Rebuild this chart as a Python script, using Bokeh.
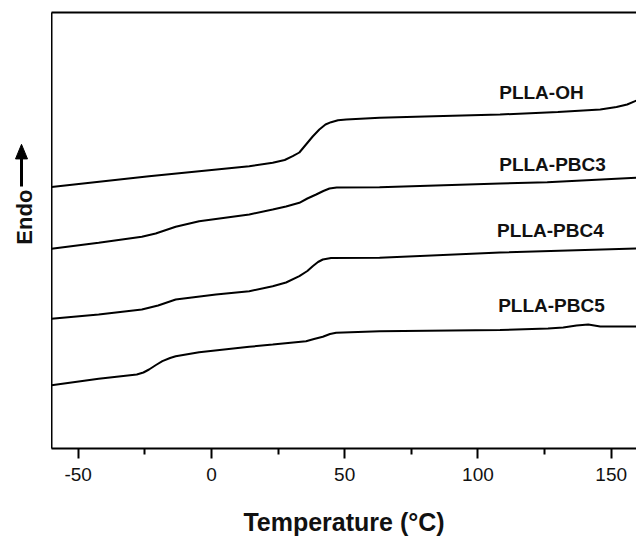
import math
from bokeh.plotting import figure
from bokeh.models import (Range1d, FixedTicker, LinearAxis, LabelSet,
                          ColumnDataSource, NumeralTickFormatter)
from bokeh.layouts import row
from bokeh.core.properties import value
from bokeh.embed import file_html
from bokeh.resources import INLINE

# ---- data (temperature in degC, heat flow in arbitrary units, curves offset) ----
temp_oh = [-60, -23.4, 14.2, 23.0, 27.5, 30.5, 33.0, 35.5, 38.0, 40.5, 42.8, 44.9, 47.5,
           50.6, 63.1, 80, 108.3, 130, 145.9, 152, 156, 159.5]
hf_oh = [261.5, 272.3, 282.3, 285.7, 288.5, 292.3, 296, 304, 312, 319, 324, 326.3, 328.3,
         329, 330.7, 332, 334, 336.5, 339, 341.5, 344, 348]

temp_pbc3 = [-60, -42.3, -26.1, -20.9, -13.4, -4.6, 14.2, 23.0, 28, 33.0, 36, 39.3, 42,
             44.3, 47, 63.1, 108.3, 126, 159.5]
hf_pbc3 = [199.7, 205.7, 211.7, 215, 221.7, 227.3, 234, 239, 242, 245.7, 250, 254, 257.5,
           260, 261, 261.3, 265, 266.3, 270.7]

temp_pbc4 = [-60, -42.3, -26.1, -20, -13.4, 1.7, 14.2, 23.0, 28, 33.0, 36, 38.0, 40, 41.8,
             44.9, 63.1, 108.3, 159.5]
hf_pbc4 = [129.7, 134, 139, 143, 149, 154, 157.3, 162.3, 166, 172.3, 177.5, 182.3, 186.5,
           189, 190.5, 190.7, 196, 200]

temp_pbc5 = [-60, -42.3, -28, -25.5, -23.4, -20.8, -18.4, -15.5, -13.4, -4.6, 14.2, 23.0,
             35.5, 38.5, 41.8, 44.5, 46.8, 63.1, 90, 108.3, 126.3, 132, 137, 141.4, 145.9, 159.5]
hf_pbc5 = [63.3, 69.7, 74, 76, 79, 83.5, 87.3, 90.5, 92.3, 96.3, 101.7, 104,
           107.3, 109.5, 111.7, 114.5, 115.7, 117.3, 118, 118.5, 120, 121, 123, 124, 122, 122]

series_names = ["PLLA-OH", "PLLA-PBC3", "PLLA-PBC4", "PLLA-PBC5"]
x_ticks = [-50, 0, 50, 100, 150]
x_minor_ticks = [-25, 25, 75, 125]

# label anchor positions (data coords)
name_x = [108, 108, 107.2, 107.6]
name_y = [350, 278, 212, 137]

H = 539
SIDE_W = 51


def hide_ticks_and_labels(ax):
    ax.major_tick_out = 0
    ax.major_tick_in = 0
    ax.minor_tick_out = 0
    ax.minor_tick_in = 0
    ax.major_tick_line_color = None
    ax.minor_tick_line_color = None
    ax.major_label_text_font_size = "1px"
    ax.major_label_text_color = None
    ax.major_label_standoff = 0
    ax.axis_line_width = 2
    ax.axis_line_color = "black"


# ---- main plot ----
p = figure(width=636 - SIDE_W, height=H, x_range=Range1d(-60, 159.5), y_range=Range1d(0, 436),
           output_backend="svg", toolbar_location=None,
           min_border_left=0, min_border_right=0, min_border_top=12, min_border_bottom=91)
p.outline_line_color = None
p.xgrid.visible = False
p.ygrid.visible = False

xa = p.below[0]
xa.ticker = FixedTicker(ticks=x_ticks, minor_ticks=x_minor_ticks)
xa.formatter = NumeralTickFormatter(format="0")
xa.major_tick_out = 10
xa.major_tick_in = 0
xa.minor_tick_out = 6
xa.minor_tick_in = 0
xa.axis_line_width = 2
xa.major_tick_line_width = 2
xa.minor_tick_line_width = 2
xa.axis_line_color = "black"
xa.major_tick_line_color = "black"
xa.minor_tick_line_color = "black"
xa.major_label_text_font_size = "19px"
xa.major_label_text_color = "#111111"
xa.major_label_standoff = 9
xa.axis_label = "Temperature (°C)"
xa.axis_label_text_font_size = "25px"
xa.axis_label_text_font_style = "bold"
xa.axis_label_text_color = "#111111"
xa.axis_label_standoff = 24

hide_ticks_and_labels(p.left[0])
top = LinearAxis()
hide_ticks_and_labels(top)
p.add_layout(top, "above")

for tx, hy in [(temp_oh, hf_oh), (temp_pbc3, hf_pbc3), (temp_pbc4, hf_pbc4), (temp_pbc5, hf_pbc5)]:
    p.line(tx, hy, line_width=2, line_color="black")

names_src = ColumnDataSource(dict(x=name_x, y=name_y, text=series_names))
p.add_layout(LabelSet(x="x", y="y", text="text", source=names_src,
                      text_font_size="19px", text_font_style="bold", text_color="#111111",
                      text_align="left", text_baseline="alphabetic"))

# ---- side panel with "Endo" + arrow ----
s = figure(width=SIDE_W, height=H, x_range=Range1d(0, SIDE_W), y_range=Range1d(0, H),
           output_backend="svg", toolbar_location=None, x_axis_type=None, y_axis_type=None,
           min_border_left=0, min_border_right=0, min_border_top=0, min_border_bottom=0)
s.outline_line_color = None
s.xgrid.visible = False
s.ygrid.visible = False
s.text(x=[24], y=[H - 253], text=["Endo"], angle=math.pi / 2, text_font=value("Liberation Sans"),
       text_font_size="22px", text_font_style="bold", text_color="#111111",
       text_align="center", text_baseline="middle")
s.segment(x0=[21], y0=[H - 215], x1=[21], y1=[H - 180], line_width=3, line_color="black")
s.patch(x=[15, 27, 21], y=[H - 181, H - 181, H - 163], fill_color="black", line_color="black",
        line_width=1)

layout = row(s, p)
open("out.html", "w").write(file_html(layout, INLINE))
